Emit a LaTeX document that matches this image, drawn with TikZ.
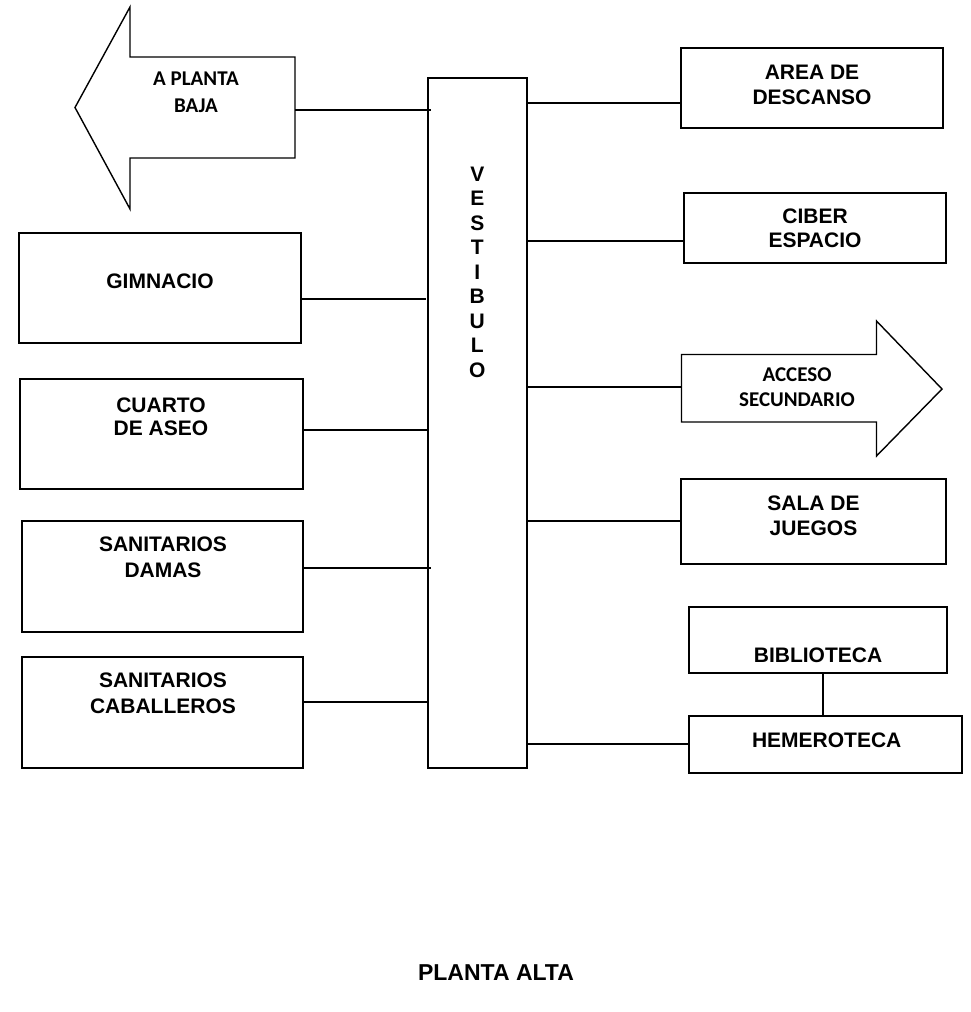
\documentclass[tikz,border=0pt]{standalone}
\usepackage{fontspec}
\setmainfont{Liberation Sans}
\newfontfamily\calibfont{Carlito}
\usetikzlibrary{fit}

\tikzset{
  room/.style={draw=black, line width=2pt, inner sep=0pt, outer sep=0pt, fill=white},
  conn/.style={draw=black, line width=2pt},
  bigarrow/.style={draw=black, line width=1.4pt, line join=miter, fill=white},
  lbl/.style={align=center, inner sep=0pt, font=\bfseries\fontsize{21}{25}\selectfont},
  arrlbl/.style={align=center, inner sep=0pt, font=\calibfont\bfseries\fontsize{21}{27.5}\selectfont}
}

\begin{document}
\begin{tikzpicture}[x=1pt, y=-1pt]
  \useasboundingbox[fill=white] (0,0) rectangle (970,1012);

  % central hall
  \node[room, fit={(428,78) (527,768)}] (vest) {};
  \node[align=center, inner sep=0pt, font=\bfseries\fontsize{21}{24.5}\selectfont]
    (vestT) at (477.3,272.2) {V\\E\\S\\T\\I\\B\\U\\L\\O};

  % arrow towards the ground floor
  \draw[bigarrow] (75,107.5) -- (130,7) -- (130,57) -- (295,57)
    -- (295,158) -- (130,158) -- (130,209) -- cycle;
  \coordinate (pbR) at (295,110);
  \node[arrlbl] (pbT) at (196,92.2) {A PLANTA\\BAJA};

  % secondary access arrow
  \draw[bigarrow] (942,389) -- (876.5,456) -- (876.5,422) -- (681.5,422)
    -- (681.5,354.5) -- (876.5,354.5) -- (876.5,321) -- cycle;
  \coordinate (acL) at (681.5,387);
  \node[arrlbl, font=\calibfont\bfseries\fontsize{21}{25}\selectfont] (acT) at (797,387.5) {ACCESO\\SECUNDARIO};

  % rooms on the left
  \node[room, fit={(19,233) (301,343)}] (gim) {};
  \node[lbl] (gimT) at (160,281.7) {GIMNACIO};
  \node[room, fit={(20,379) (303,489)}] (cua) {};
  \node[lbl, font=\bfseries\fontsize{21}{23}\selectfont] (cuaT) at (161,416.5) {CUARTO\\DE ASEO};
  \node[room, fit={(22,521) (303,632)}] (dam) {};
  \node[lbl, font=\bfseries\fontsize{21}{26}\selectfont] (damT) at (163,557) {SANITARIOS\\DAMAS};
  \node[room, fit={(22,657) (303,768)}] (cab) {};
  \node[lbl, font=\bfseries\fontsize{21}{26.7}\selectfont] (cabT) at (163,693.3) {SANITARIOS\\CABALLEROS};

  % rooms on the right
  \node[room, fit={(681,48) (943,128)}] (area) {};
  \node[lbl] (areaT) at (812,84.8) {AREA DE\\DESCANSO};
  \node[room, fit={(684,193) (946,263)}] (cib) {};
  \node[lbl, font=\bfseries\fontsize{21}{23.3}\selectfont] (cibT) at (815,228.3) {CIBER\\ESPACIO};
  \node[room, fit={(681,479) (946,564)}] (sala) {};
  \node[lbl] (salaT) at (813.5,515.8) {SALA DE\\JUEGOS};
  \node[room, fit={(689,607) (947,673)}] (bib) {};
  \node[lbl] (bibT) at (818,655) {BIBLIOTECA};
  \node[room, fit={(689,716) (962,773)}] (hem) {};
  \node[lbl] (hemT) at (826.7,740) {HEMEROTECA};

  % connections to the hall
  \draw[conn] (pbR) -- ([xshift=3pt]vest.west |- pbR);
  \draw[conn] (gim.east |- 0,299) -- ([xshift=-2pt]vest.west |- 0,299);
  \draw[conn] (cua.east |- 0,430) -- (vest.west |- 0,430);
  \draw[conn] (dam.east |- 0,568) -- ([xshift=3pt]vest.west |- 0,568);
  \draw[conn] (cab.east |- 0,702) -- (vest.west |- 0,702);

  \draw[conn] (vest.east |- 0,103) -- (area.west |- 0,103);
  \draw[conn] (vest.east |- 0,241) -- (cib.west |- 0,241);
  \draw[conn] (vest.east |- acL) -- (acL);
  \draw[conn] (vest.east |- 0,521) -- (sala.west |- 0,521);
  \draw[conn] (vest.east |- 0,744) -- (hem.west |- 0,744);
  \draw[conn] (823,0 |- bib.south) -- (823,0 |- hem.north);

  % floor title
  \node[inner sep=0pt, font=\bfseries\fontsize{23}{27}\selectfont] (title) at (496,973) {PLANTA ALTA};
\end{tikzpicture}
\end{document}
